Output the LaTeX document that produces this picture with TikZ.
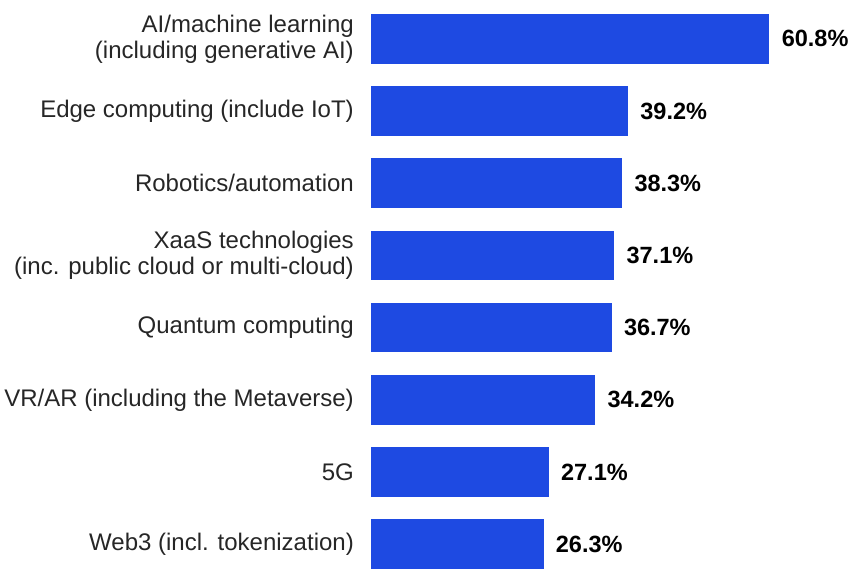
\documentclass[tikz,border=0pt]{standalone}
\usepackage{xcolor}
\usepackage{fontspec}
\setmainfont{Liberation Sans}
\usepackage{tikz}
\usetikzlibrary{positioning}
\definecolor{barblue}{RGB}{30,74,226}
\tikzset{
  bar/.style={rectangle, fill=barblue, anchor=west, inner sep=0pt, minimum height=49.5pt},
  cat/.style={align=right, inner sep=0pt, text=black!85, font=\fontsize{24}{26}\selectfont},
  val/.style={inner sep=0pt, font=\fontsize{23.5}{26}\selectfont\bfseries}
}

\begin{document}
\begin{tikzpicture}[x=1pt, y=-1pt]

\useasboundingbox (0,0) rectangle (848,568);

\begin{scope}
  \node[bar, minimum width=398.2pt] (b1) at (371,38.8) {};
  \node[bar, minimum width=256.8pt] (b2) at (371,111.0) {};
  \node[bar, minimum width=250.9pt] (b3) at (371,183.2) {};
  \node[bar, minimum width=243.0pt] (b4) at (371,255.4) {};
  \node[bar, minimum width=240.4pt] (b5) at (371,327.6) {};
  \node[bar, minimum width=224.0pt] (b6) at (371,399.8) {};
  \node[bar, minimum width=177.5pt] (b7) at (371,472.0) {};
  \node[bar, minimum width=172.3pt] (b8) at (371,544.2) {};
\end{scope}

\begin{scope}
  \node[cat, left=17pt of b1] (c1) {AI/machine learning\\(including generative AI)};
  \node[cat, left=17pt of b2] (c2) {Edge computing (include IoT)};
  \node[cat, left=17pt of b3] (c3) {Robotics/automation};
  \node[cat, left=17pt of b4] (c4) {XaaS technologies\\(inc. public cloud or multi-cloud)};
  \node[cat, left=17pt of b5] (c5) {Quantum computing};
  \node[cat, left=17pt of b6] (c6) {VR/AR (including the Metaverse)};
  \node[cat, left=17pt of b7] (c7) {5G};
  \node[cat, left=17pt of b8] (c8) {Web3 (incl. tokenization)};
\end{scope}

\begin{scope}
  \node[val, right=12pt of b1] (v1) {60.8\%};
  \node[val, right=12pt of b2] (v2) {39.2\%};
  \node[val, right=12pt of b3] (v3) {38.3\%};
  \node[val, right=12pt of b4] (v4) {37.1\%};
  \node[val, right=12pt of b5] (v5) {36.7\%};
  \node[val, right=12pt of b6] (v6) {34.2\%};
  \node[val, right=12pt of b7] (v7) {27.1\%};
  \node[val, right=12pt of b8] (v8) {26.3\%};
\end{scope}

\end{tikzpicture}
\end{document}
